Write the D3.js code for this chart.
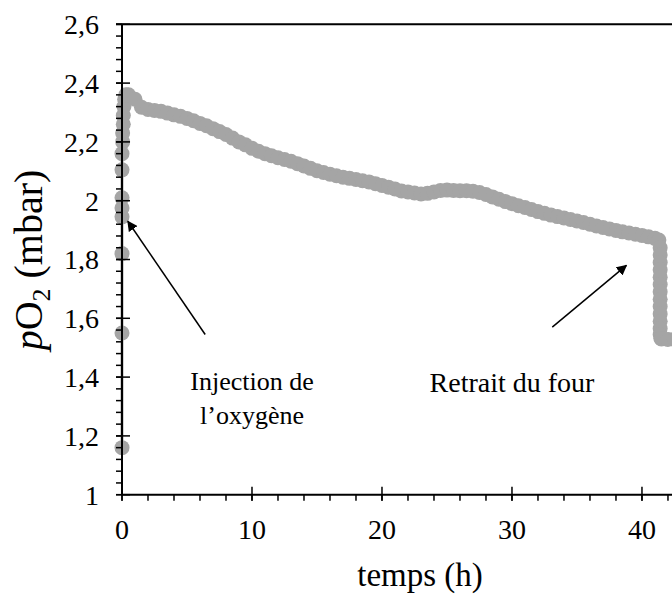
<!DOCTYPE html>
<html>
<head>
<meta charset="utf-8">
<script src="https://cdn.jsdelivr.net/npm/d3@7"></script>
<style>
  html, body { margin: 0; padding: 0; background: #fff; }
  svg { display: block; }
  text { font-family: "Liberation Serif", "Times New Roman", serif; fill: #000; }
</style>
</head>
<body>
<svg id="chart" width="672" height="597"></svg>
<script>
// Oxygen partial pressure in the furnace over time
// Points recorded right after the injection (t = 0)
const injectionTimes  = [0, 0, 0, 0, 0, 0, 0, 0, 0.05, 0.05, 0.1, 0.1, 0.15, 0.2, 0.3];
const injectionValues = [1.16, 1.55, 1.82, 1.945, 1.975, 2.01, 2.105, 2.16, 2.2, 2.23, 2.26, 2.29, 2.32, 2.345, 2.36];

// Slow decay while the sample sits in the furnace
const runTimes = [
  0.5, 1, 1.5, 2, 2.5, 3, 3.5, 4, 4.5, 5, 5.5, 6, 6.5, 7, 7.5, 8, 8.5, 9, 9.5, 10,
  10.5, 11, 11.5, 12, 12.5, 13, 13.5, 14, 14.5, 15, 15.5, 16, 16.5, 17, 17.5, 18, 18.5, 19, 19.5, 20,
  20.5, 21, 21.5, 22, 22.5, 23, 23.5, 24, 24.5, 25, 25.5, 26, 26.5, 27, 27.5, 28, 28.5, 29, 29.5, 30,
  30.5, 31, 31.5, 32, 32.5, 33, 33.5, 34, 34.5, 35, 35.5, 36, 36.5, 37, 37.5, 38, 38.5, 39, 39.5, 40,
  40.5, 41, 41.3
];
const runValues = [
  2.36, 2.345, 2.318, 2.31, 2.307, 2.304, 2.298, 2.292, 2.287, 2.28, 2.272, 2.263, 2.255, 2.245, 2.235, 2.225, 2.213, 2.2, 2.19, 2.178,
  2.168, 2.16, 2.153, 2.146, 2.14, 2.134, 2.126, 2.118, 2.11, 2.102, 2.096, 2.09, 2.085, 2.08, 2.076, 2.072, 2.068, 2.064, 2.058, 2.052,
  2.046, 2.04, 2.033, 2.03, 2.026, 2.023, 2.025, 2.03, 2.035, 2.036, 2.035, 2.034, 2.034, 2.032, 2.028, 2.021, 2.013, 2.005, 1.997, 1.99,
  1.983, 1.977, 1.97, 1.963, 1.957, 1.951, 1.946, 1.941, 1.936, 1.931, 1.926, 1.92, 1.914, 1.909, 1.904, 1.899, 1.894, 1.89, 1.886, 1.882,
  1.877, 1.872, 1.866
];

// Drop when the sample is taken out of the furnace, then the final plateau
const removalTimes  = [41.4, 41.4, 41.4, 41.4, 41.4, 41.4, 41.4, 41.4, 41.4, 41.4, 41.4, 41.4, 41.4, 41.45, 41.5, 42, 42.5];
const removalValues = [1.84, 1.815, 1.79, 1.765, 1.74, 1.715, 1.69, 1.665, 1.64, 1.615, 1.59, 1.565, 1.545, 1.532, 1.53, 1.528, 1.528];

// Axis ticks
const xTicks = [0, 10, 20, 30, 40];
const yTicks = [1, 1.2, 1.4, 1.6, 1.8, 2, 2.2, 2.4, 2.6];
const xMinor = d3.range(0, 43, 2);
const yMinor = d3.range(1, 2.6001, 0.04);

// Annotations (text baseline and arrow ends in data units)
const notes = [
  { lines: ["Injection de", "l\u2019oxygène"], size: 26, textAt: [10, 1.356], from: [6.4, 1.545], to: [0.45, 1.93] },
  { lines: ["Retrait du four"], size: 28, textAt: [30, 1.35], from: [33.1, 1.57], to: [38.8, 1.78] }
];

(function draw() {
  const points = [];
  injectionTimes.forEach((t, i) => points.push([t, injectionValues[i]]));
  runTimes.forEach((t, i) => points.push([t, runValues[i]]));
  removalTimes.forEach((t, i) => points.push([t, removalValues[i]]));

  const svg = d3.select("#chart");
  const W = 672, H = 597;
  const plotLeft = 122, plotTop = 24.3, plotBottom = 494.7;

  const x = d3.scaleLinear().domain([0, 42.31]).range([plotLeft, W]);
  const y = d3.scaleLinear().domain([1, 2.6]).range([plotBottom, plotTop]);

  svg.append("rect").attr("width", W).attr("height", H).attr("fill", "#fff");

  const grey = "#a5a5a5";

  // Connecting line of the series
  svg.append("path")
    .datum(points)
    .attr("fill", "none")
    .attr("stroke", grey)
    .attr("stroke-width", 3)
    .attr("stroke-linejoin", "round")
    .attr("d", d3.line().x(d => x(d[0])).y(d => y(d[1])));

  // Markers
  svg.append("g").selectAll("circle")
    .data(points)
    .join("circle")
    .attr("cx", d => x(d[0]))
    .attr("cy", d => y(d[1]))
    .attr("r", 7.5)
    .attr("fill", grey);

  // Plot frame top edge
  svg.append("line")
    .attr("x1", plotLeft - 6).attr("x2", W)
    .attr("y1", plotTop).attr("y2", plotTop)
    .attr("stroke", "#000").attr("stroke-width", 2);

  // Axis lines
  svg.append("line")
    .attr("x1", plotLeft).attr("x2", plotLeft).attr("y1", plotTop).attr("y2", plotBottom)
    .attr("stroke", "#000").attr("stroke-width", 2);
  svg.append("line")
    .attr("x1", plotLeft).attr("x2", W).attr("y1", plotBottom).attr("y2", plotBottom)
    .attr("stroke", "#000").attr("stroke-width", 2);

  // Minor ticks (outside only)
  svg.append("g").selectAll("line")
    .data(yMinor)
    .join("line")
    .attr("x1", plotLeft - 6).attr("x2", plotLeft)
    .attr("y1", d => y(d)).attr("y2", d => y(d))
    .attr("stroke", "#000").attr("stroke-width", 1.5);
  svg.append("g").selectAll("line")
    .data(xMinor)
    .join("line")
    .attr("x1", d => x(d)).attr("x2", d => x(d))
    .attr("y1", plotBottom).attr("y2", plotBottom + 6)
    .attr("stroke", "#000").attr("stroke-width", 1.5);

  // Major ticks (crossing the axis)
  svg.append("g").selectAll("line")
    .data(yTicks)
    .join("line")
    .attr("x1", plotLeft - 6).attr("x2", plotLeft + 8)
    .attr("y1", d => y(d)).attr("y2", d => y(d))
    .attr("stroke", "#000").attr("stroke-width", 1.5);
  svg.append("g").selectAll("line")
    .data(xTicks)
    .join("line")
    .attr("x1", d => x(d)).attr("x2", d => x(d))
    .attr("y1", plotBottom - 8).attr("y2", plotBottom + 6)
    .attr("stroke", "#000").attr("stroke-width", 1.5);

  // Tick labels
  const fmt = d => String(+d.toFixed(1)).replace(".", ",");
  svg.append("g").selectAll("text")
    .data(yTicks)
    .join("text")
    .attr("x", plotLeft - 23)
    .attr("y", d => y(d))
    .attr("dy", "0.35em")
    .attr("text-anchor", "end")
    .attr("font-size", 28)
    .text(fmt);
  svg.append("g").selectAll("text")
    .data(xTicks)
    .join("text")
    .attr("x", d => x(d))
    .attr("y", plotBottom + 44)
    .attr("text-anchor", "middle")
    .attr("font-size", 28)
    .text(d => d);

  // Axis titles
  svg.append("text")
    .attr("x", 420).attr("y", 586)
    .attr("text-anchor", "middle")
    .attr("font-size", 33)
    .text("temps (h)");

  const yt = svg.append("text")
    .attr("transform", `translate(42, 260) rotate(-90)`)
    .attr("text-anchor", "middle")
    .attr("font-size", 40);
  yt.append("tspan").attr("font-style", "italic").text("p");
  yt.append("tspan").text("O");
  yt.append("tspan").attr("font-size", 26).attr("dy", 8).text("2");
  yt.append("tspan").attr("dy", -8).text(" (mbar)");

  // Arrow head
  svg.append("defs").append("marker")
    .attr("id", "head")
    .attr("viewBox", "0 0 10 10")
    .attr("refX", 9).attr("refY", 5)
    .attr("markerWidth", 7).attr("markerHeight", 7)
    .attr("orient", "auto")
    .append("path")
    .attr("d", "M0,0 L10,5 L0,10 z")
    .attr("fill", "#000");

  notes.forEach(n => {
    svg.append("line")
      .attr("x1", x(n.from[0])).attr("y1", y(n.from[1]))
      .attr("x2", x(n.to[0])).attr("y2", y(n.to[1]))
      .attr("stroke", "#000").attr("stroke-width", 1.5)
      .attr("marker-end", "url(#head)");
    const t = svg.append("text")
      .attr("x", x(n.textAt[0])).attr("y", y(n.textAt[1]))
      .attr("text-anchor", "middle")
      .attr("font-size", n.size);
    n.lines.forEach((l, i) => {
      t.append("tspan").attr("x", x(n.textAt[0])).attr("dy", i === 0 ? 0 : "1.3em").text(l);
    });
  });
})();
</script>
</body>
</html>
